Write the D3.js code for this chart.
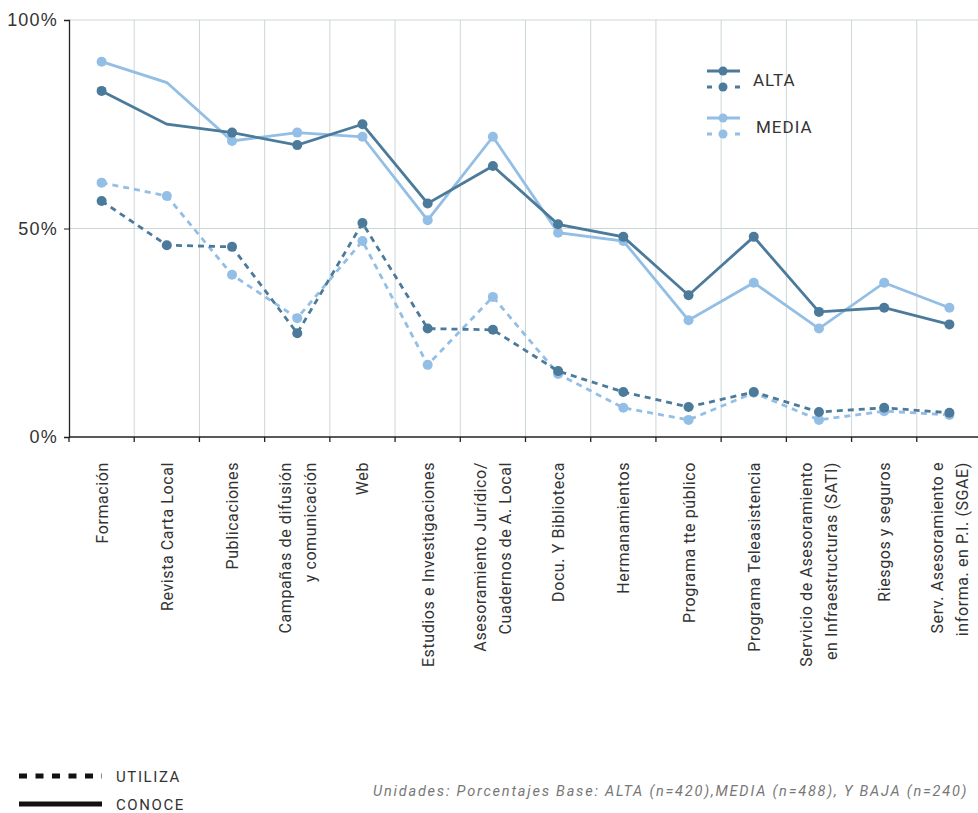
<!DOCTYPE html>
<html lang="es">
<head>
<meta charset="UTF-8">
<title>Conoce / Utiliza</title>
<script src="https://d3js.org/d3.v7.min.js"></script>
<style>
  body { margin: 0; background: #fff; }
  svg { display: block; font-family: Roboto, "DejaVu Sans", sans-serif; }
  .cat { font-size: 16px; fill: #333; letter-spacing: 0.6px; }
  .ytick { font-size: 18px; fill: #333; letter-spacing: 1.2px; }
  .leg { font-size: 17px; fill: #333; letter-spacing: 1px; }
  .leg2 { font-size: 15px; fill: #333; letter-spacing: 1.6px; }
  .nota { font-size: 14.5px; fill: #777; font-style: italic; letter-spacing: 1.8px; }
</style>
</head>
<body>
<svg width="978" height="813"></svg>
<script>
// categorias (las que llevan dos lineas van separadas con "|")
const categorias = [
  "Formación", "Revista Carta Local", "Publicaciones",
  "Campañas de difusión|y comunicación", "Web", "Estudios e Investigaciones",
  "Asesoramiento Jurídico/|Cuadernos de A. Local", "Docu. Y Biblioteca",
  "Hermanamientos", "Programa tte público", "Programa Teleasistencia",
  "Servicio de Asesoramiento|en Infraestructuras (SATI)", "Riesgos y seguros",
  "Serv. Asesoramiento e|informa. en P.I. (SGAE)"
];

// porcentajes
const altaConoce   = [83, 75, 73, 70, 75, 56, 65, 51, 48, 34, 48, 30, 31, 27];
const mediaConoce  = [90, 85, 71, 73, 72, 52, 72, 49, 47, 28, 37, 26, 37, 31];
const altaUtiliza  = [56.6, 46, 45.6, 24.9, 51.3, 26, 25.7, 15.8, 10.8, 7.2, 10.8, 6, 7, 5.8];
const mediaUtiliza = [61, 57.8, 38.9, 28.5, 47, 17.3, 33.6, 15.1, 7, 4.1, 10.6, 4.1, 6.2, 5.3];

// en el original, "Revista Carta Local" no lleva marcador en las lineas de CONOCE
const sinMarcadorConoce = ["Revista Carta Local"];

const yTicks = [0, 50, 100];

const colAlta = "#4b7a9b";
const colMedia = "#93bee5";
const colGrid = "#cdd6d6";

const svg = d3.select("svg");

const x = d3.scaleBand().domain(categorias).range([69, 982]);
const y = d3.scaleLinear().domain([0, 100]).range([437, 20]);

// rejilla vertical en los limites de cada categoria
svg.append("g")
  .selectAll("line")
  .data(categorias.slice(1))
  .join("line")
  .attr("x1", d => x(d)).attr("x2", d => x(d))
  .attr("y1", y(100)).attr("y2", y(0))
  .attr("stroke", colGrid).attr("stroke-width", 1);

// rejilla horizontal
svg.append("g")
  .selectAll("line")
  .data(yTicks.filter(t => t > 0))
  .join("line")
  .attr("x1", 69).attr("x2", 982)
  .attr("y1", d => y(d)).attr("y2", d => y(d))
  .attr("stroke", colGrid).attr("stroke-width", 1);

// eje y
const yAxis = svg.append("g")
  .attr("transform", "translate(69,0)")
  .call(d3.axisLeft(y).tickValues(yTicks).tickSize(5).tickPadding(6).tickFormat(d => d + "%"));
yAxis.select(".domain").attr("stroke", "#222").attr("stroke-width", 1.3);
yAxis.selectAll(".tick line").attr("stroke", "#222");
yAxis.selectAll(".tick text").attr("class", "ytick").attr("font-family", null).attr("font-size", null);

// eje x: marcas en los limites
const xAxis = svg.append("g").attr("transform", "translate(0," + y(0) + ")");
xAxis.append("line")
  .attr("x1", 69).attr("x2", 982)
  .attr("stroke", "#222").attr("stroke-width", 1.5);
xAxis.selectAll(".tk")
  .data(categorias)
  .join("line")
  .attr("class", "tk")
  .attr("x1", d => x(d)).attr("x2", d => x(d))
  .attr("y1", 0).attr("y2", 5)
  .attr("stroke", "#222").attr("stroke-width", 1.3);

// etiquetas giradas
const cx = d => x(d) + x.bandwidth() / 2;
const lab = svg.append("g")
  .selectAll("text")
  .data(categorias)
  .join("text")
  .attr("class", "cat")
  .attr("text-anchor", "end")
  .attr("transform", d => {
    const n = d.split("|").length;
    return "translate(" + (cx(d) + 6 - (n - 1) * 12.5) + ",462) rotate(-90)";
  });
lab.selectAll("tspan")
  .data(d => d.split("|"))
  .join("tspan")
  .attr("x", 0)
  .attr("dy", (d, i) => i === 0 ? 0 : 25)
  .text(d => d);

// series
const series = [
  { vals: mediaConoce,  color: colMedia, dash: null,  conoce: true },
  { vals: altaConoce,   color: colAlta,  dash: null,  conoce: true },
  { vals: mediaUtiliza, color: colMedia, dash: "6 5", conoce: false },
  { vals: altaUtiliza,  color: colAlta,  dash: "6 5", conoce: false }
];

const line = d3.line()
  .x((d, i) => cx(categorias[i]))
  .y(d => y(d));

series.forEach(s => {
  svg.append("path")
    .datum(s.vals)
    .attr("d", line)
    .attr("fill", "none")
    .attr("stroke", s.color)
    .attr("stroke-width", 2.8)
    .attr("stroke-dasharray", s.dash);

  svg.append("g")
    .selectAll("circle")
    .data(s.vals.map((v, i) => ({ v, c: categorias[i] }))
      .filter(d => !(s.conoce && sinMarcadorConoce.includes(d.c))))
    .join("circle")
    .attr("cx", d => cx(d.c))
    .attr("cy", d => y(d.v))
    .attr("r", 5)
    .attr("fill", s.color);
});

// leyenda superior (ALTA / MEDIA)
const legNiveles = [
  { name: "ALTA", color: colAlta, y0: 71, tx: 753 },
  { name: "MEDIA", color: colMedia, y0: 118, tx: 756 }
];
legNiveles.forEach(l => {
  const g = svg.append("g");
  g.append("line").attr("x1", 707).attr("x2", 740).attr("y1", l.y0).attr("y2", l.y0)
    .attr("stroke", l.color).attr("stroke-width", 2.8);
  g.append("circle").attr("cx", 723).attr("cy", l.y0).attr("r", 4.5).attr("fill", l.color);
  g.append("line").attr("x1", 707).attr("x2", 740).attr("y1", l.y0 + 16).attr("y2", l.y0 + 16)
    .attr("stroke", l.color).attr("stroke-width", 2.8).attr("stroke-dasharray", "5 9");
  g.append("circle").attr("cx", 723).attr("cy", l.y0 + 16).attr("r", 4.5).attr("fill", l.color);
  g.append("text").attr("class", "leg").attr("x", l.tx).attr("y", l.y0 + 15).text(l.name);
});

// leyenda inferior (UTILIZA / CONOCE)
const legTipo = [
  { name: "UTILIZA", dash: "8 8.5", y0: 776 },
  { name: "CONOCE", dash: null, y0: 804 }
];
legTipo.forEach(l => {
  svg.append("line").attr("x1", 19).attr("x2", 102).attr("y1", l.y0).attr("y2", l.y0)
    .attr("stroke", "#111").attr("stroke-width", 5).attr("stroke-dasharray", l.dash);
  svg.append("text").attr("class", "leg2").attr("x", 116).attr("y", l.y0 + 6).text(l.name);
});

svg.append("text")
  .attr("class", "nota")
  .attr("x", 373).attr("y", 796)
  .text("Unidades: Porcentajes Base: ALTA (n=420),MEDIA (n=488), Y BAJA (n=240)");
</script>
</body>
</html>
